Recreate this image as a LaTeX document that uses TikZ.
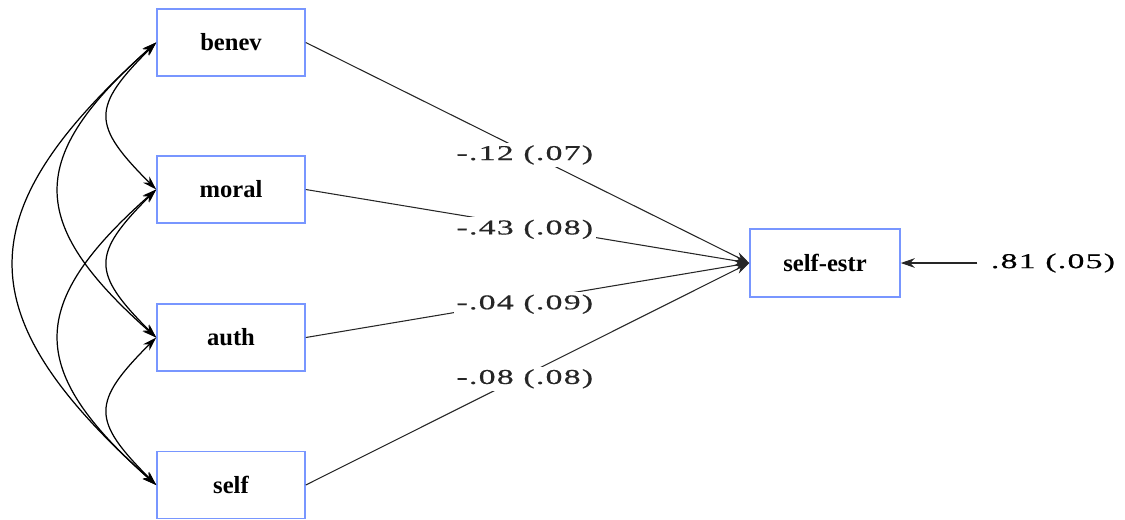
\documentclass[tikz,border=0pt]{standalone}
\usepackage{fontspec}
\setmainfont{Liberation Serif}
\newfontfamily\estfont[FakeStretch=1.6,FakeBold=0.5,LetterSpace=6]{Liberation Serif}
\usetikzlibrary{arrows.meta}
\definecolor{boxblue}{RGB}{120,150,255}

\begin{document}
\begin{tikzpicture}[
  var/.style={rectangle, draw=boxblue, line width=0.9pt, minimum width=2.96cm, minimum height=1.34cm, font=\bfseries\fontsize{14}{16}\selectfont},
  est/.style={fill=white, inner sep=1.5pt, yshift=-2pt, font=\estfont\fontsize{12}{14}\selectfont},
  reg/.style={-{Stealth[length=8pt,width=5.5pt]}, line width=0.6pt, black!85},
  cov/.style={{Stealth[length=8pt,width=5pt]}-{Stealth[length=8pt,width=5pt]}, line width=0.7pt}
]
  \useasboundingbox (0,0) rectangle (22.5,-10.38);
  \node[var] (benev) at (4.62, -0.85) {benev};
  \node[var] (moral) at (4.62, -3.79) {moral};
  \node[var] (auth) at (4.62, -6.75) {auth};
  \node[var] (self) at (4.62, -9.70) {self};
  \node[var, minimum width=3.0cm, minimum height=1.36cm] (selfestr) at (16.5, -5.26) {self-estr};
  \node[est, fill=none, yshift=2pt] (err) at (21.06, -5.26) {.81 (.05)};

  \draw[reg] (benev.east) -- (selfestr.west) node[est, pos=0.494] {-.12 (.07)};
  \draw[reg] (moral.east) -- (selfestr.west) node[est, pos=0.494] {-.43 (.08)};
  \draw[reg] (auth.east) -- (selfestr.west) node[est, pos=0.494] {-.04 (.09)};
  \draw[reg] (self.east) -- (selfestr.west) node[est, pos=0.494] {-.08 (.08)};
  \draw[reg, shorten <=6pt] (err) -- (selfestr);

  % covariances
  \draw[cov] (benev.west) .. controls +(-1.3,-1.3) and +(-1.3,1.3) .. (moral.west);
  \draw[cov] (moral.west) .. controls +(-1.3,-1.3) and +(-1.3,1.3) .. (auth.west);
  \draw[cov] (auth.west) .. controls +(-1.3,-1.3) and +(-1.3,1.3) .. (self.west);
  \draw[cov] (benev.west) .. controls +(-2.6,-2.3) and +(-2.6,2.3) .. (auth.west);
  \draw[cov] (moral.west) .. controls +(-2.6,-2.3) and +(-2.6,2.3) .. (self.west);
  \draw[cov] (benev.west) .. controls +(-3.8,-3.4) and +(-3.8,3.4) .. (self.west);
\end{tikzpicture}
\end{document}
